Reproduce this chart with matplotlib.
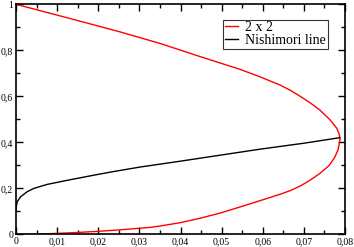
import numpy as np
import matplotlib
matplotlib.use("Agg")
import matplotlib.pyplot as plt
from matplotlib.ticker import MultipleLocator, FuncFormatter

plt.rcParams['font.family'] = ['Liberation Serif', 'DejaVu Serif']

# 2 x 2 boundary, traced from the top (0,1) round the nose and back to (0,0)
red_x = [0.0, 0.01, 0.018, 0.0253, 0.035, 0.0447, 0.0545, 0.0593, 0.0642, 0.0667, 0.0691, 0.0715,
         0.0739, 0.0764, 0.0780, 0.0786, 0.0788,
         0.0786, 0.0783, 0.0775, 0.0762, 0.0739, 0.0715, 0.0691, 0.0667, 0.0642, 0.0593, 0.0545,
         0.0496, 0.0447, 0.0399, 0.035, 0.0326, 0.025, 0.02, 0.015, 0.01, 0.005, 0.0]
red_y = [1.0, 0.953, 0.915, 0.880, 0.830, 0.773, 0.717, 0.685, 0.649, 0.626, 0.600, 0.572,
         0.540, 0.497, 0.461, 0.435, 0.415,
         0.393, 0.367, 0.335, 0.300, 0.265, 0.235, 0.210, 0.190, 0.174, 0.146, 0.119,
         0.092, 0.0696, 0.0504, 0.036, 0.030, 0.019, 0.013, 0.008, 0.004, 0.001, 0.0]

# Nishimori line
nis_x = [0.0, 0.0001, 0.0003, 0.0011, 0.0027, 0.0044, 0.0076, 0.0117, 0.0157, 0.0198, 0.0238,
         0.03, 0.04, 0.05, 0.0593, 0.07, 0.0787]
nis_y = [0.103, 0.122, 0.142, 0.163, 0.185, 0.200, 0.217, 0.232, 0.246, 0.260, 0.273,
         0.292, 0.318, 0.345, 0.370, 0.396, 0.420]

fig = plt.figure(figsize=(3.54, 2.47), dpi=100)
ax = fig.add_axes([0.0452, 0.0514, 0.9294, 0.9312])

ax.plot(red_x, red_y, color='#ff0000', lw=1.0, label='2 x 2')
ax.plot(nis_x, nis_y, color='black', lw=1.0, label='Nishimori line')

ax.set_xlim(0, 0.08)
ax.set_ylim(0, 1)
ax.xaxis.set_major_locator(MultipleLocator(0.01))
ax.xaxis.set_minor_locator(MultipleLocator(0.005))
ax.yaxis.set_major_locator(MultipleLocator(0.2))
ax.yaxis.set_minor_locator(MultipleLocator(0.1))


def comma(v, pos):
    s = ('%.2f' % v).rstrip('0').rstrip('.')
    return s.replace('.', ',')


ax.xaxis.set_major_formatter(FuncFormatter(comma))
ax.yaxis.set_major_formatter(FuncFormatter(comma))
ax.tick_params(which='both', direction='in', top=True, right=True, labelsize=7, width=1.0, pad=2)
ax.tick_params(which='major', length=5)
ax.tick_params(which='minor', length=3)
for sp in ax.spines.values():
    sp.set_linewidth(1.2)

leg = ax.legend(loc='upper right', bbox_to_anchor=(0.947, 0.932), fontsize=10, frameon=True, fancybox=False,
                edgecolor='black', handlelength=1.0, handletextpad=0.5, borderpad=0.1, labelspacing=0.0,
                borderaxespad=0)
leg.get_frame().set_linewidth(0.8)

fig.savefig('out.png', dpi=100)
